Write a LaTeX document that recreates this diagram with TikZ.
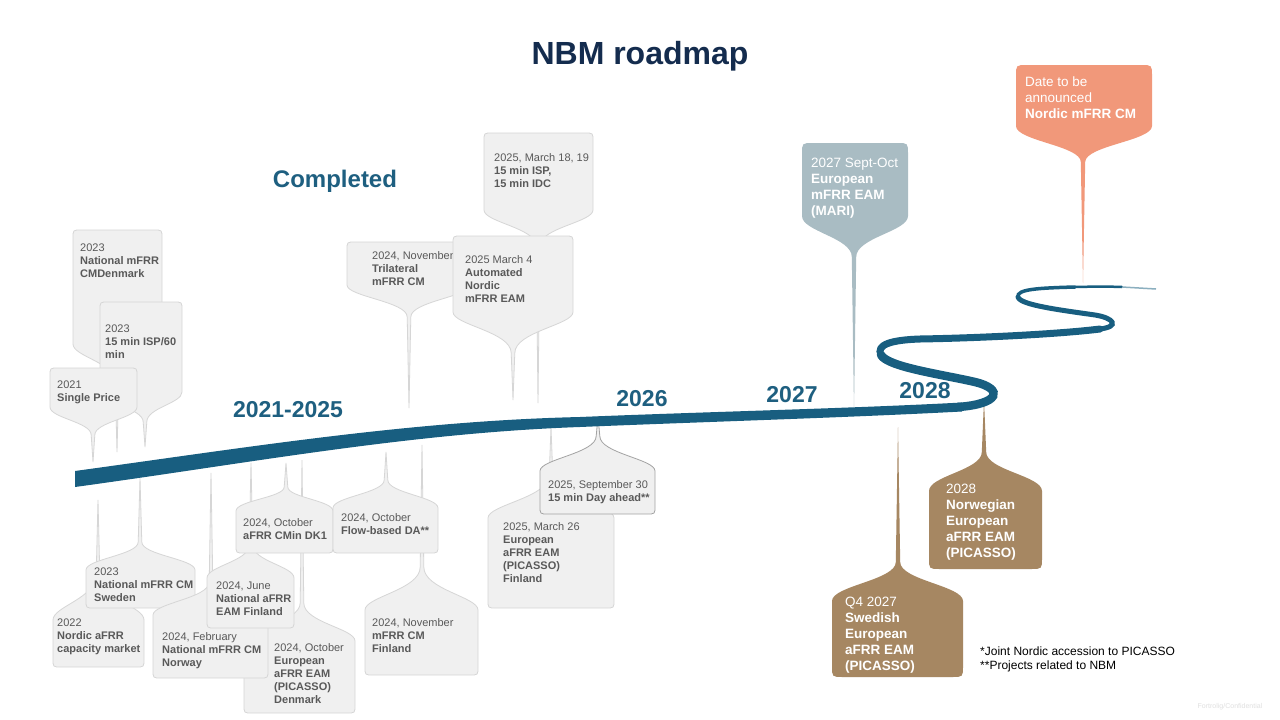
\documentclass[tikz,border=0pt]{standalone}
\usepackage{fontspec}
\setmainfont{Liberation Sans}
\definecolor{road}{RGB}{24,94,128}
\definecolor{tealtxt}{RGB}{30,95,128}
\definecolor{navy}{RGB}{20,44,78}
\definecolor{gfill}{RGB}{240,240,240}
\definecolor{gline}{RGB}{214,214,214}
\definecolor{gtext}{RGB}{89,89,89}
\definecolor{bluegrey}{RGB}{169,188,195}
\definecolor{salmonc}{RGB}{241,152,122}
\definecolor{brownc}{RGB}{166,135,98}
\tikzset{
 gbox/.style={fill=gfill, draw=gline, line width=0.8pt},
 pbox/.style={fill=gfill, draw=black!36, line width=0.8pt},
 cbox/.style={fill=#1},
 gtxt/.style={anchor=north west, inner sep=0pt, align=left, text=gtext, font=\fontsize{11}{13}\selectfont\bfseries},
 ctxt/.style={anchor=north west, inner sep=0pt, align=left, text=white, font=\fontsize{13.5}{16}\selectfont\bfseries},
 yrlabel/.style={text=tealtxt, inner sep=0pt, font=\fontsize{23}{26}\selectfont\bfseries},
 roadline/.style={draw=road, line cap=round},
}
\newcommand\rr{8}
\newcommand\sw{1.8}
% L T R B S(stem x) P(tip y) F(flare) d(1 down,-1 up) style
\newcommand\pinshape[9]{%
 \pgfmathsetmacro\pE{(#8)>0?#4:#2}%
 \pgfmathsetmacro\pO{(#8)>0?#2:#4}%
 \path[#9] ({#5-\sw},{\pE+(#8)*#7}) -- (#5,#6) -- ({#5+\sw},{\pE+(#8)*#7})
  .. controls ({#5+\sw},{\pE+(#8)*0.35*#7}) and (#3,{\pE+(#8)*0.15*#7}) .. (#3,{\pE-(#8)*\rr})
  -- (#3,{\pO+(#8)*\rr}) .. controls (#3,\pO) .. ({#3-\rr},\pO)
  -- ({#1+\rr},\pO) .. controls (#1,\pO) .. (#1,{\pO+(#8)*\rr})
  -- (#1,{\pE-(#8)*\rr}) .. controls (#1,{\pE+(#8)*0.15*#7}) and ({#5-\sw},{\pE+(#8)*0.35*#7}) .. ({#5-\sw},{\pE+(#8)*#7}) -- cycle;}
\begin{document}
\begin{tikzpicture}[x=1pt,y=-1pt]
\fill[white] (0,0) rectangle (1280,720);
\useasboundingbox (0,0) rectangle (1280,720);

% title and headings
\node[text=navy, font=\fontsize{32}{36}\selectfont\bfseries] (title) at (640,56) {NBM roadmap};
\node[yrlabel, font=\fontsize{24}{28}\selectfont\bfseries] (completed) at (335,181) {Completed};

% ---- upper-left cluster
\pinshape{73}{230}{162}{352}{117}{452}{30}{1}{gbox}
\node[gtxt] (tA) at (80,244) {{\mdseries 2023}\\National mFRR\\CMDenmark};
\pinshape{100}{302}{182}{400}{145}{447}{22}{1}{gbox}
\node[gtxt] (tB) at (105,325) {{\mdseries 2023}\\15 min ISP/60\\min};
\pinshape{50}{368}{137}{415}{93}{462}{20}{1}{gbox}
\node[gtxt] (tC) at (57,381) {{\mdseries 2021}\\Single Price};

% ---- upper-middle cluster
\pinshape{484}{133}{593}{218}{538}{403}{28}{1}{gbox}
\node[gtxt] (tF) at (494,153) {{\mdseries 2025, March 18, 19}\\15 min ISP,\\15 min IDC};
\pinshape{347}{242}{470}{293}{409}{408}{24}{1}{gbox}
\node[gtxt] (tD) at (372,251) {{\mdseries 2024, November}\\Trilateral\\mFRR CM};
\pinshape{453}{236}{573}{320}{513}{400}{33}{1}{gbox}
\node[gtxt] (tE) at (465,255) {{\mdseries 2025 March 4}\\Automated\\Nordic\\mFRR EAM};

% ---- lower cluster
\pinshape{53}{612}{144}{667}{98}{500}{38}{-1}{gbox}
\node[gtxt] (tG) at (57,619) {{\mdseries 2022}\\Nordic aFRR\\capacity market};
\pinshape{86}{562}{195}{608}{140}{478}{20}{-1}{gbox}
\node[gtxt] (tH) at (94,568) {{\mdseries 2023}\\National mFRR CM\\Sweden};
\pinshape{244}{633}{355}{713}{302}{460}{30}{-1}{gbox}
\node[gtxt] (tL) at (274,643) {{\mdseries 2024, October}\\European\\aFRR EAM\\(PICASSO)\\Denmark};
\pinshape{153}{607}{268}{678}{211}{473}{25}{-1}{gbox}
\node[gtxt] (tI) at (162,632) {{\mdseries 2024, February}\\National mFRR CM\\Norway};
\pinshape{207}{570}{294}{628}{251}{463}{25}{-1}{gbox}
\node[gtxt] (tJ) at (216,582) {{\mdseries 2024, June}\\National aFRR\\EAM Finland};
\pinshape{236}{503}{333}{553}{286}{463}{16}{-1}{gbox}
\node[gtxt] (tK) at (243,518) {{\mdseries 2024, October}\\aFRR CMin DK1};
\pinshape{365}{602}{478}{675}{422}{445}{35}{-1}{gbox}
\node[gtxt] (tN) at (372,618) {{\mdseries 2024, November}\\mFRR CM\\Finland};
\pinshape{333}{500}{438}{553}{386}{452}{20}{-1}{gbox}
\node[gtxt] (tM) at (341,513) {{\mdseries 2024, October}\\Flow-based DA**};
\pinshape{488}{510}{614}{608}{551}{427}{35}{-1}{gbox}
\node[gtxt] (tO) at (503,522) {{\mdseries 2025, March 26}\\European\\aFRR EAM\\(PICASSO)\\Finland};
\pinshape{540}{463}{655}{514}{598}{416}{27}{-1}{pbox}
\node[gtxt] (tP) at (548,480) {{\mdseries 2025, September 30}\\15 min Day ahead**};

% ---- coloured future milestones
\renewcommand\rr{11}
\renewcommand\sw{2.2}
\pinshape{802}{143}{908}{227}{854}{410}{30}{1}{cbox=bluegrey}
\node[ctxt] (tQ) at (811,158) {{\mdseries 2027 Sept-Oct}\\European\\mFRR EAM\\(MARI)};
\pinshape{1016}{65}{1152}{137}{1083}{283}{25}{1}{cbox=salmonc}
\node[ctxt] (tR) at (1025,77) {{\mdseries Date to be}\\{\mdseries announced}\\Nordic mFRR CM};
\pinshape{929}{480}{1042}{569}{984}{400}{28}{-1}{cbox=brownc}
\node[ctxt] (tS) at (946,484) {{\mdseries 2028}\\Norwegian\\European\\aFRR EAM\\(PICASSO)};
\pinshape{832}{590}{963}{677}{898}{427}{28}{-1}{cbox=brownc}
\node[ctxt] (tT) at (845,597) {{\mdseries Q4 2027}\\Swedish\\European\\aFRR EAM\\(PICASSO)};

% ---- the road
\fill[road] (75,471) .. controls (250,447) and (410,421) .. (580,417) .. controls (700,412) and (850,408.5) .. (962,402.5)
  -- (962,411.5) .. controls (850,417.5) and (700,422) .. (580,427) .. controls (410,433) and (250,463) .. (75,487) -- cycle;
\draw[roadline, line width=8.5pt] (958,407) .. controls (1000,404) and (1004,389) .. (975,382) .. controls (940,374) and (888,367) .. (881,355);
\draw[roadline, line width=7pt] (881,355) .. controls (876,345) and (890,340) .. (920,339) .. controls (980,338) and (1060,334) .. (1100,329);
\draw[roadline, line width=5pt] (1100,329) .. controls (1120,326.5) and (1114,318) .. (1095,315) .. controls (1060,310) and (1020,305) .. (1018,297);
\draw[roadline, line width=3.5pt] (1018,297) .. controls (1016,289) and (1040,288) .. (1075,287);
\draw[roadline, line width=2.5pt] (1075,287) .. controls (1095,286.5) and (1110,286.5) .. (1122,287);
\draw[draw=road!50, line width=1.5pt] (1122,287) -- (1156,289);

% ---- year labels
\node[yrlabel] (y1) at (288,410) {2021-2025};
\node[yrlabel] (y2) at (642,399) {2026};
\node[yrlabel] (y3) at (792,395) {2027};
\node[yrlabel] (y4) at (925,391) {2028};

% ---- footnotes
\node[anchor=north west, inner sep=0pt, align=left, font=\fontsize{12}{14}\selectfont] (notes) at (980,647) {*Joint Nordic accession to PICASSO\\**Projects related to NBM};
\node[text=black!12, font=\fontsize{7}{8}\selectfont] (conf) at (1230,707) {Fortrolig/Confidential};
\end{tikzpicture}
\end{document}
